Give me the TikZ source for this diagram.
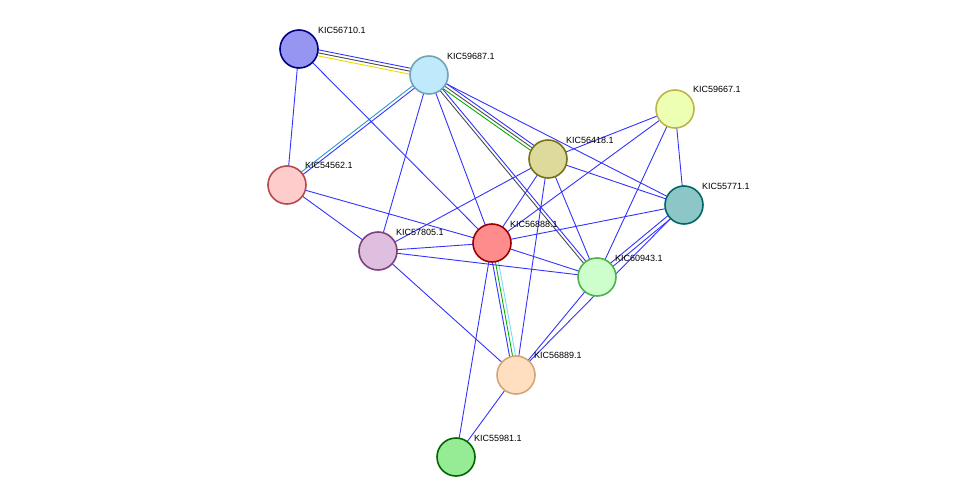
\documentclass[tikz,border=0pt]{standalone}
\usepackage{fontspec}
\setmainfont{Liberation Sans}
\usetikzlibrary{calc}
\begin{document}
\begin{tikzpicture}[x=1pt,y=-1pt,
  prot/.style={circle,minimum size=38pt,inner sep=0pt,line width=1.6pt},
  lab/.style={anchor=south west,font=\fontsize{9}{10}\selectfont,inner sep=0pt},
  e/.style={draw=blue!80!white,line width=0.9pt}]
\useasboundingbox (0,0) rectangle (975,503);
\coordinate (A) at (299,49);
\coordinate (B) at (429,75);
\coordinate (C) at (675,109);
\coordinate (D) at (548,159);
\coordinate (E) at (287,185);
\coordinate (F) at (684,205);
\coordinate (G) at (492,243);
\coordinate (H) at (378,251);
\coordinate (I) at (597,277);
\coordinate (J) at (516,375);
\coordinate (K) at (456,457);
\newcommand{\mline}[4]{\draw[#4,line width=0.9pt] ($(#1)!#3!90:(#2)$) -- ($(#2)!#3!-90:(#1)$);}
% multi edges
\mline{A}{B}{-3pt}{yellow!80!olive}
\mline{A}{B}{0pt}{black!70}
\mline{A}{B}{3pt}{blue!80!white}
\mline{B}{E}{-1.5pt}{cyan!80!black}
\mline{B}{E}{1.5pt}{blue!80!white}
\mline{B}{D}{-3pt}{green!70!black}
\mline{B}{D}{0pt}{black!70}
\mline{B}{D}{3pt}{blue!80!white}
\mline{B}{I}{-1.5pt}{black!70}
\mline{B}{I}{1.5pt}{blue!80!white}
\mline{F}{I}{-2pt}{blue!80!white}
\mline{F}{I}{2pt}{blue!80!white}
\mline{G}{J}{-3pt}{blue!80!white}
\mline{G}{J}{0pt}{green!70!black}
\mline{G}{J}{3pt}{cyan!50!white}
% single edges
\foreach \a/\b in {A/E,A/G,B/H,B/G,B/F,C/D,C/G,C/F,C/I,D/H,D/G,D/F,D/I,D/J,E/G,E/H,F/G,F/J,H/G,H/I,H/J,G/I,G/K,I/J,J/K}
  \draw[e] (\a) -- (\b);
% nodes
\node[prot,fill=blue!40!white!90!gray,draw=blue!50!black] (nA) at (A) {};
\node[prot,fill=cyan!25,draw=cyan!40!gray] (nB) at (B) {};
\node[prot,fill=lime!30!white,draw=olive!60!white] (nC) at (C) {};
\node[prot,fill=yellow!50!gray!60!white,draw=olive!80!black] (nD) at (D) {};
\node[prot,fill=red!20!white,draw=red!40!gray] (nE) at (E) {};
\node[prot,fill=teal!45!white,draw=teal!80!black] (nF) at (F) {};
\node[prot,fill=red!45!white,draw=red!60!black] (nG) at (G) {};
\node[prot,fill=violet!25!white,draw=violet!50!gray] (nH) at (H) {};
\node[prot,fill=green!20!white,draw=green!40!gray] (nI) at (I) {};
\node[prot,fill=orange!25!white,draw=brown!70!white] (nJ) at (J) {};
\node[prot,fill=green!40!white!85!gray,draw=green!40!black] (nK) at (K) {};
\node[lab] at (318,34) {KIC56710.1};
\node[lab] at (447,60) {KIC59687.1};
\node[lab] at (693,93) {KIC59667.1};
\node[lab] at (566,144) {KIC56418.1};
\node[lab] at (305,169) {KIC54562.1};
\node[lab] at (702,190) {KIC55771.1};
\node[lab] at (510,228) {KIC56888.1};
\node[lab] at (396,236) {KIC57805.1};
\node[lab] at (615,262) {KIC60943.1};
\node[lab] at (534,359) {KIC56889.1};
\node[lab] at (474,442) {KIC55981.1};
\end{tikzpicture}
\end{document}
